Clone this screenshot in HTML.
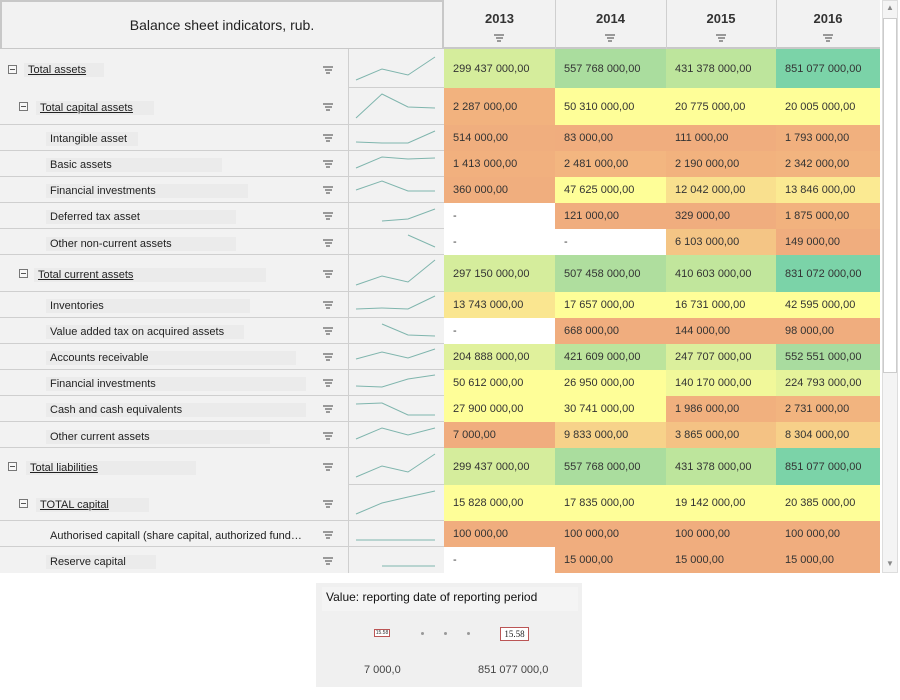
<!DOCTYPE html>
<html><head><meta charset="utf-8"><style>
*{margin:0;padding:0;box-sizing:border-box}
body{width:900px;height:700px;background:#fff;font-family:"Liberation Sans",Arial,sans-serif;position:relative;overflow:hidden}
.a{position:absolute}
.lab{position:absolute;left:0;width:348px;background:#f2f2f2;border-bottom:1px solid #cfcfcf}
.lab.nb{border-bottom:none}
.sp{position:absolute;left:348px;width:96px;background:#f2f2f2;border-left:1px solid #cfcfcf;border-bottom:1px solid #cfcfcf}
.t{position:absolute;font-size:11px;color:#222;white-space:nowrap;padding:1px 4px;background:#ebebeb;margin-top:3px}
.t.u{text-decoration:underline;font-size:11px}
.box{position:absolute;width:9px;height:9px;border:1px solid #777;background:#f7f7f7;margin-top:1px}
.box:after{content:"";position:absolute;left:1px;top:3px;width:5px;height:1px;background:#555}
.f{position:absolute;left:323px;width:10px;margin-top:1px}
.f i{display:block;height:2px;background:#999;margin:0 auto 1px}
.c{position:absolute;font-size:11px;color:#333;padding-left:9px;display:flex;align-items:center}
</style></head><body>
<div class="a" style="left:0;top:0;width:444px;height:50px;background:#f2f2f2;border:2px solid #c8c8c8"></div>
<div class="a" style="left:0;top:17px;width:444px;text-align:center;font-size:14px;color:#222">Balance sheet indicators, rub.</div>
<div class="a" style="left:444px;top:0;width:436px;height:49px;background:#f2f2f2;border-bottom:2px solid #c8c8c8"></div>
<div class="a" style="left:555px;top:0;width:1px;height:49px;background:#cfcfcf"></div>
<div class="a" style="left:666px;top:0;width:1px;height:49px;background:#cfcfcf"></div>
<div class="a" style="left:776px;top:0;width:1px;height:49px;background:#cfcfcf"></div>
<div class="a" style="left:444px;top:11px;width:111px;text-align:center;font-size:13px;font-weight:bold;color:#333">2013</div>
<div class="a" style="left:555px;top:11px;width:111px;text-align:center;font-size:13px;font-weight:bold;color:#333">2014</div>
<div class="a" style="left:666px;top:11px;width:110px;text-align:center;font-size:13px;font-weight:bold;color:#333">2015</div>
<div class="a" style="left:776px;top:11px;width:104px;text-align:center;font-size:13px;font-weight:bold;color:#333">2016</div>
<div class="f" style="left:494px;top:33px"><i style="width:10px"></i><i style="width:7px"></i><i style="width:4px"></i></div>
<div class="f" style="left:605px;top:33px"><i style="width:10px"></i><i style="width:7px"></i><i style="width:4px"></i></div>
<div class="f" style="left:716px;top:33px"><i style="width:10px"></i><i style="width:7px"></i><i style="width:4px"></i></div>
<div class="f" style="left:823px;top:33px"><i style="width:10px"></i><i style="width:7px"></i><i style="width:4px"></i></div>
<div class="a" style="left:882px;top:0;width:16px;height:573px;background:#f4f4f4;border:1px solid #ddd"></div>
<div class="a" style="left:883px;top:18px;width:14px;height:355px;background:#fff;border:1px solid #ccc"></div>
<div class="a" style="left:886px;top:3px;font-size:8px;color:#888">▲</div>
<div class="a" style="left:886px;top:559px;font-size:8px;color:#888">▼</div>

<div class="lab nb" style="top:49px;height:39px"></div>
<div class="lab" style="top:88px;height:37px"></div>
<div class="lab" style="top:125px;height:26px"></div>
<div class="lab" style="top:151px;height:26px"></div>
<div class="lab" style="top:177px;height:26px"></div>
<div class="lab" style="top:203px;height:26px"></div>
<div class="lab" style="top:229px;height:26px"></div>
<div class="lab" style="top:255px;height:37px"></div>
<div class="lab" style="top:292px;height:26px"></div>
<div class="lab" style="top:318px;height:26px"></div>
<div class="lab" style="top:344px;height:26px"></div>
<div class="lab" style="top:370px;height:26px"></div>
<div class="lab" style="top:396px;height:26px"></div>
<div class="lab" style="top:422px;height:26px"></div>
<div class="lab nb" style="top:448px;height:37px"></div>
<div class="lab" style="top:485px;height:36px"></div>
<div class="lab" style="top:521px;height:26px"></div>
<div class="lab nb" style="top:547px;height:26px"></div>

<div class="box" style="left:8px;top:64px"></div><div class="t u" style="left:24px;top:60px;width:80px">Total assets</div>
<div class="box" style="left:19px;top:101px"></div><div class="t u" style="left:36px;top:98px;width:118px">Total capital assets</div>
<div class="t" style="left:46px;top:129px;width:92px">Intangible asset</div>
<div class="t" style="left:46px;top:155px;width:176px">Basic assets</div>
<div class="t" style="left:46px;top:181px;width:202px">Financial investments</div>
<div class="t" style="left:46px;top:207px;width:190px">Deferred tax asset</div>
<div class="t" style="left:46px;top:234px;width:190px">Other non-current assets</div>
<div class="box" style="left:19px;top:268px"></div><div class="t u" style="left:34px;top:265px;width:232px">Total current assets</div>
<div class="t" style="left:46px;top:296px;width:204px">Inventories</div>
<div class="t" style="left:46px;top:322px;width:198px">Value added tax on acquired assets</div>
<div class="t" style="left:46px;top:348px;width:250px">Accounts receivable</div>
<div class="t" style="left:46px;top:374px;width:260px">Financial investments</div>
<div class="t" style="left:46px;top:400px;width:260px">Cash and cash equivalents</div>
<div class="t" style="left:46px;top:427px;width:224px">Other current assets</div>
<div class="box" style="left:8px;top:461px"></div><div class="t u" style="left:26px;top:458px;width:170px">Total liabilities</div>
<div class="box" style="left:19px;top:498px"></div><div class="t u" style="left:36px;top:495px;width:113px">TOTAL capital</div>
<div class="t" style="left:46px;top:526px;background:none">Authorised capitall (share capital, authorized fund…</div>
<div class="t" style="left:46px;top:552px;width:110px">Reserve capital</div>

<div class="f" style="top:65px"><i style="width:10px"></i><i style="width:7px"></i><i style="width:4px"></i></div>
<div class="f" style="top:102px"><i style="width:10px"></i><i style="width:7px"></i><i style="width:4px"></i></div>
<div class="f" style="top:133px"><i style="width:10px"></i><i style="width:7px"></i><i style="width:4px"></i></div>
<div class="f" style="top:159px"><i style="width:10px"></i><i style="width:7px"></i><i style="width:4px"></i></div>
<div class="f" style="top:185px"><i style="width:10px"></i><i style="width:7px"></i><i style="width:4px"></i></div>
<div class="f" style="top:211px"><i style="width:10px"></i><i style="width:7px"></i><i style="width:4px"></i></div>
<div class="f" style="top:238px"><i style="width:10px"></i><i style="width:7px"></i><i style="width:4px"></i></div>
<div class="f" style="top:269px"><i style="width:10px"></i><i style="width:7px"></i><i style="width:4px"></i></div>
<div class="f" style="top:300px"><i style="width:10px"></i><i style="width:7px"></i><i style="width:4px"></i></div>
<div class="f" style="top:326px"><i style="width:10px"></i><i style="width:7px"></i><i style="width:4px"></i></div>
<div class="f" style="top:352px"><i style="width:10px"></i><i style="width:7px"></i><i style="width:4px"></i></div>
<div class="f" style="top:378px"><i style="width:10px"></i><i style="width:7px"></i><i style="width:4px"></i></div>
<div class="f" style="top:404px"><i style="width:10px"></i><i style="width:7px"></i><i style="width:4px"></i></div>
<div class="f" style="top:431px"><i style="width:10px"></i><i style="width:7px"></i><i style="width:4px"></i></div>
<div class="f" style="top:462px"><i style="width:10px"></i><i style="width:7px"></i><i style="width:4px"></i></div>
<div class="f" style="top:499px"><i style="width:10px"></i><i style="width:7px"></i><i style="width:4px"></i></div>
<div class="f" style="top:530px"><i style="width:10px"></i><i style="width:7px"></i><i style="width:4px"></i></div>
<div class="f" style="top:556px"><i style="width:10px"></i><i style="width:7px"></i><i style="width:4px"></i></div>

<div class="sp" style="top:49px;height:39px"></div>
<div class="sp" style="top:88px;height:37px"></div>
<div class="sp" style="top:125px;height:26px"></div>
<div class="sp" style="top:151px;height:26px"></div>
<div class="sp" style="top:177px;height:26px"></div>
<div class="sp" style="top:203px;height:26px"></div>
<div class="sp" style="top:229px;height:26px"></div>
<div class="sp" style="top:255px;height:37px"></div>
<div class="sp" style="top:292px;height:26px"></div>
<div class="sp" style="top:318px;height:26px"></div>
<div class="sp" style="top:344px;height:26px"></div>
<div class="sp" style="top:370px;height:26px"></div>
<div class="sp" style="top:396px;height:26px"></div>
<div class="sp" style="top:422px;height:26px"></div>
<div class="sp" style="top:448px;height:37px"></div>
<div class="sp" style="top:485px;height:36px"></div>
<div class="sp" style="top:521px;height:26px"></div>
<div class="sp" style="top:547px;height:26px;border-bottom:none"></div>
<svg class="a" style="left:0;top:0" width="900" height="700"><g fill="none" stroke="#7fb5ad" stroke-width="1">
<polyline points="356,80 382,69 408,75 435,57"/>
<polyline points="356,118 382,94 408,107 435,108"/>
<polyline points="356,142 382,143 408,143 435,131"/>
<polyline points="356,168 382,157 408,159 435,158"/>
<polyline points="356,190 382,181 408,191 435,191"/>
<polyline points="382,221 408,219 435,209"/>
<polyline points="408,235 435,247"/>
<polyline points="356,285 382,276 408,282 435,260"/>
<polyline points="356,309 382,308 408,309 435,296"/>
<polyline points="382,324 408,335 435,336"/>
<polyline points="356,359 382,352 408,358 435,349"/>
<polyline points="356,386 382,387 408,379 435,375"/>
<polyline points="356,404 382,403 408,415 435,415"/>
<polyline points="356,439 382,428 408,435 435,428"/>
<polyline points="356,477 382,466 408,472 435,454"/>
<polyline points="356,514 382,503 408,497 435,491"/>
<polyline points="356,540 435,540"/>
<polyline points="382,566 435,566"/>
</g></svg>

<div class="c" style="left:444px;top:49px;width:111px;height:39px;background:#d5ed9c">299 437 000,00</div>
<div class="c" style="left:555px;top:49px;width:111px;height:39px;background:#aadd9e">557 768 000,00</div>
<div class="c" style="left:666px;top:49px;width:110px;height:39px;background:#bde59c">431 378 000,00</div>
<div class="c" style="left:776px;top:49px;width:104px;height:39px;background:#7bd3a8">851 077 000,00</div>
<div class="c" style="left:444px;top:88px;width:111px;height:37px;background:#f2b27e">2 287 000,00</div>
<div class="c" style="left:555px;top:88px;width:111px;height:37px;background:#fefe98">50 310 000,00</div>
<div class="c" style="left:666px;top:88px;width:110px;height:37px;background:#fefe98">20 775 000,00</div>
<div class="c" style="left:776px;top:88px;width:104px;height:37px;background:#fefe98">20 005 000,00</div>
<div class="c" style="left:444px;top:125px;width:111px;height:26px;background:#f0ae7e">514 000,00</div>
<div class="c" style="left:555px;top:125px;width:111px;height:26px;background:#f0ad7e">83 000,00</div>
<div class="c" style="left:666px;top:125px;width:110px;height:26px;background:#f0ad7e">111 000,00</div>
<div class="c" style="left:776px;top:125px;width:104px;height:26px;background:#f1b07e">1 793 000,00</div>
<div class="c" style="left:444px;top:151px;width:111px;height:26px;background:#f1b07e">1 413 000,00</div>
<div class="c" style="left:555px;top:151px;width:111px;height:26px;background:#f3b680">2 481 000,00</div>
<div class="c" style="left:666px;top:151px;width:110px;height:26px;background:#f2b27e">2 190 000,00</div>
<div class="c" style="left:776px;top:151px;width:104px;height:26px;background:#f2b47f">2 342 000,00</div>
<div class="c" style="left:444px;top:177px;width:111px;height:26px;background:#f0ae7e">360 000,00</div>
<div class="c" style="left:555px;top:177px;width:111px;height:26px;background:#fefe98">47 625 000,00</div>
<div class="c" style="left:666px;top:177px;width:110px;height:26px;background:#f9e08e">12 042 000,00</div>
<div class="c" style="left:776px;top:177px;width:104px;height:26px;background:#fbea92">13 846 000,00</div>
<div class="c" style="left:444px;top:203px;width:111px;height:26px;background:#fff">-</div>
<div class="c" style="left:555px;top:203px;width:111px;height:26px;background:#f0ad7e">121 000,00</div>
<div class="c" style="left:666px;top:203px;width:110px;height:26px;background:#f0ad7e">329 000,00</div>
<div class="c" style="left:776px;top:203px;width:104px;height:26px;background:#f2b27e">1 875 000,00</div>
<div class="c" style="left:444px;top:229px;width:111px;height:26px;background:#fff">-</div>
<div class="c" style="left:555px;top:229px;width:111px;height:26px;background:#fff">-</div>
<div class="c" style="left:666px;top:229px;width:110px;height:26px;background:#f4c585">6 103 000,00</div>
<div class="c" style="left:776px;top:229px;width:104px;height:26px;background:#f0ad7e">149 000,00</div>
<div class="c" style="left:444px;top:255px;width:111px;height:37px;background:#d5ed9c">297 150 000,00</div>
<div class="c" style="left:555px;top:255px;width:111px;height:37px;background:#afde9e">507 458 000,00</div>
<div class="c" style="left:666px;top:255px;width:110px;height:37px;background:#c1e69c">410 603 000,00</div>
<div class="c" style="left:776px;top:255px;width:104px;height:37px;background:#7bd3a8">831 072 000,00</div>
<div class="c" style="left:444px;top:292px;width:111px;height:26px;background:#fae690">13 743 000,00</div>
<div class="c" style="left:555px;top:292px;width:111px;height:26px;background:#fefe98">17 657 000,00</div>
<div class="c" style="left:666px;top:292px;width:110px;height:26px;background:#fefe98">16 731 000,00</div>
<div class="c" style="left:776px;top:292px;width:104px;height:26px;background:#fefe98">42 595 000,00</div>
<div class="c" style="left:444px;top:318px;width:111px;height:26px;background:#fff">-</div>
<div class="c" style="left:555px;top:318px;width:111px;height:26px;background:#f0ad7e">668 000,00</div>
<div class="c" style="left:666px;top:318px;width:110px;height:26px;background:#f0ad7e">144 000,00</div>
<div class="c" style="left:776px;top:318px;width:104px;height:26px;background:#f0ad7e">98 000,00</div>
<div class="c" style="left:444px;top:344px;width:111px;height:26px;background:#e0f19c">204 888 000,00</div>
<div class="c" style="left:555px;top:344px;width:111px;height:26px;background:#bce49c">421 609 000,00</div>
<div class="c" style="left:666px;top:344px;width:110px;height:26px;background:#dbef9c">247 707 000,00</div>
<div class="c" style="left:776px;top:344px;width:104px;height:26px;background:#a9dc9f">552 551 000,00</div>
<div class="c" style="left:444px;top:370px;width:111px;height:26px;background:#fefe98">50 612 000,00</div>
<div class="c" style="left:555px;top:370px;width:111px;height:26px;background:#fefe98">26 950 000,00</div>
<div class="c" style="left:666px;top:370px;width:110px;height:26px;background:#f1f89a">140 170 000,00</div>
<div class="c" style="left:776px;top:370px;width:104px;height:26px;background:#e5f39b">224 793 000,00</div>
<div class="c" style="left:444px;top:396px;width:111px;height:26px;background:#fefe98">27 900 000,00</div>
<div class="c" style="left:555px;top:396px;width:111px;height:26px;background:#fefe98">30 741 000,00</div>
<div class="c" style="left:666px;top:396px;width:110px;height:26px;background:#f1b07e">1 986 000,00</div>
<div class="c" style="left:776px;top:396px;width:104px;height:26px;background:#f2b47f">2 731 000,00</div>
<div class="c" style="left:444px;top:422px;width:111px;height:26px;background:#f0ad7e">7 000,00</div>
<div class="c" style="left:555px;top:422px;width:111px;height:26px;background:#f7d28a">9 833 000,00</div>
<div class="c" style="left:666px;top:422px;width:110px;height:26px;background:#f4c284">3 865 000,00</div>
<div class="c" style="left:776px;top:422px;width:104px;height:26px;background:#f7d089">8 304 000,00</div>
<div class="c" style="left:444px;top:448px;width:111px;height:37px;background:#d5ed9c">299 437 000,00</div>
<div class="c" style="left:555px;top:448px;width:111px;height:37px;background:#aadd9e">557 768 000,00</div>
<div class="c" style="left:666px;top:448px;width:110px;height:37px;background:#bde59c">431 378 000,00</div>
<div class="c" style="left:776px;top:448px;width:104px;height:37px;background:#7bd3a8">851 077 000,00</div>
<div class="c" style="left:444px;top:485px;width:111px;height:36px;background:#fefe98">15 828 000,00</div>
<div class="c" style="left:555px;top:485px;width:111px;height:36px;background:#fefe98">17 835 000,00</div>
<div class="c" style="left:666px;top:485px;width:110px;height:36px;background:#fefe98">19 142 000,00</div>
<div class="c" style="left:776px;top:485px;width:104px;height:36px;background:#fefe98">20 385 000,00</div>
<div class="c" style="left:444px;top:521px;width:111px;height:26px;background:#f0ad7e">100 000,00</div>
<div class="c" style="left:555px;top:521px;width:111px;height:26px;background:#f0ad7e">100 000,00</div>
<div class="c" style="left:666px;top:521px;width:110px;height:26px;background:#f0ad7e">100 000,00</div>
<div class="c" style="left:776px;top:521px;width:104px;height:26px;background:#f0ad7e">100 000,00</div>
<div class="c" style="left:444px;top:547px;width:111px;height:26px;background:#fff">-</div>
<div class="c" style="left:555px;top:547px;width:111px;height:26px;background:#f0ad7e">15 000,00</div>
<div class="c" style="left:666px;top:547px;width:110px;height:26px;background:#f0ad7e">15 000,00</div>
<div class="c" style="left:776px;top:547px;width:104px;height:26px;background:#f0ad7e">15 000,00</div>

<div class="a" style="left:316px;top:583px;width:266px;height:104px;background:#f0f0f0"></div>
<div class="a" style="left:322px;top:587px;width:256px;height:24px;background:#f4f4f4"></div>
<div class="a" style="left:326px;top:590px;font-size:12px;color:#111">Value: reporting date of reporting period</div>
<div class="a" style="left:374px;top:629px;width:16px;height:8px;border:1px solid #b55;background:#fff;font-size:5px;line-height:6px;text-align:center;color:#333">15.58</div>
<div class="a" style="left:421px;top:632px;width:3px;height:3px;border-radius:2px;background:#999"></div>
<div class="a" style="left:444px;top:632px;width:3px;height:3px;border-radius:2px;background:#999"></div>
<div class="a" style="left:467px;top:632px;width:3px;height:3px;border-radius:2px;background:#999"></div>
<div class="a" style="left:500px;top:627px;width:29px;height:14px;border:1px solid #b55;background:#fff;font-size:9px;line-height:12px;text-align:center;color:#222;font-family:'Liberation Serif',serif">15.58</div>
<div class="a" style="left:364px;top:664px;font-size:11px;color:#444">7 000,0</div>
<div class="a" style="left:478px;top:664px;font-size:11px;color:#444">851 077 000,0</div>
</body></html>
